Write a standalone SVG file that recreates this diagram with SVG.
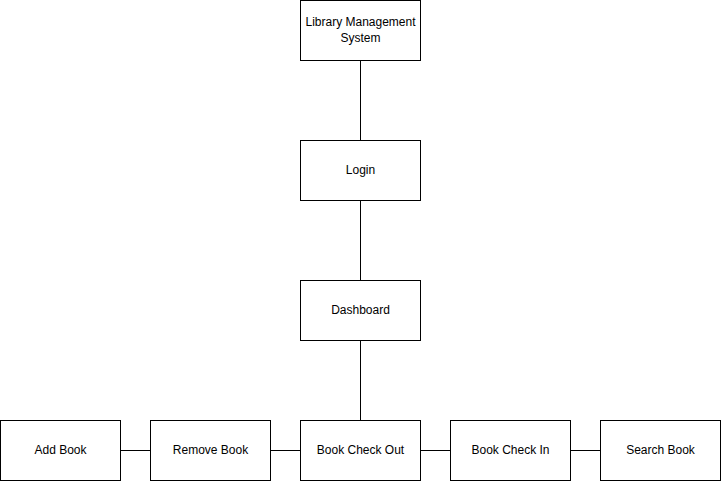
<svg xmlns="http://www.w3.org/2000/svg" width="721" height="481" viewBox="0 0 721 481">
<style>
.box{fill:#fff;stroke:#000;stroke-width:1}
.lbl{font-family:"Liberation Sans",Arial,sans-serif;font-size:12px;fill:#000;text-anchor:middle}
.edge{stroke:#000;stroke-width:1;fill:none}
</style>
<rect width="721" height="481" fill="#fff"/>
<g id="connectors">
<line class="edge" x1="360.5" y1="60.5" x2="360.5" y2="140.5"/>
<line class="edge" x1="360.5" y1="200.5" x2="360.5" y2="280.5"/>
<line class="edge" x1="360.5" y1="340.5" x2="360.5" y2="420.5"/>
<line class="edge" x1="120.5" y1="450.5" x2="150.5" y2="450.5"/>
<line class="edge" x1="270.5" y1="450.5" x2="300.5" y2="450.5"/>
<line class="edge" x1="420.5" y1="450.5" x2="450.5" y2="450.5"/>
<line class="edge" x1="570.5" y1="450.5" x2="600.5" y2="450.5"/>
</g>
<g id="lms"><rect class="box" x="300.5" y="0.5" width="120" height="60"/><text class="lbl" x="360.5" y="26">Library Management</text><text class="lbl" x="360.5" y="42">System</text></g>
<g id="login"><rect class="box" x="300.5" y="140.5" width="120" height="60"/><text class="lbl" x="360.5" y="174">Login</text></g>
<g id="dashboard"><rect class="box" x="300.5" y="280.5" width="120" height="60"/><text class="lbl" x="360.5" y="314">Dashboard</text></g>
<g id="addbook"><rect class="box" x="0.5" y="420.5" width="120" height="60"/><text class="lbl" x="60.5" y="454">Add Book</text></g>
<g id="removebook"><rect class="box" x="150.5" y="420.5" width="120" height="60"/><text class="lbl" x="210.5" y="454">Remove Book</text></g>
<g id="checkout"><rect class="box" x="300.5" y="420.5" width="120" height="60"/><text class="lbl" x="360.5" y="454">Book Check Out</text></g>
<g id="checkin"><rect class="box" x="450.5" y="420.5" width="120" height="60"/><text class="lbl" x="510.5" y="454">Book Check In</text></g>
<g id="search"><rect class="box" x="600.5" y="420.5" width="120" height="60"/><text class="lbl" x="660.5" y="454">Search Book</text></g>
</svg>
